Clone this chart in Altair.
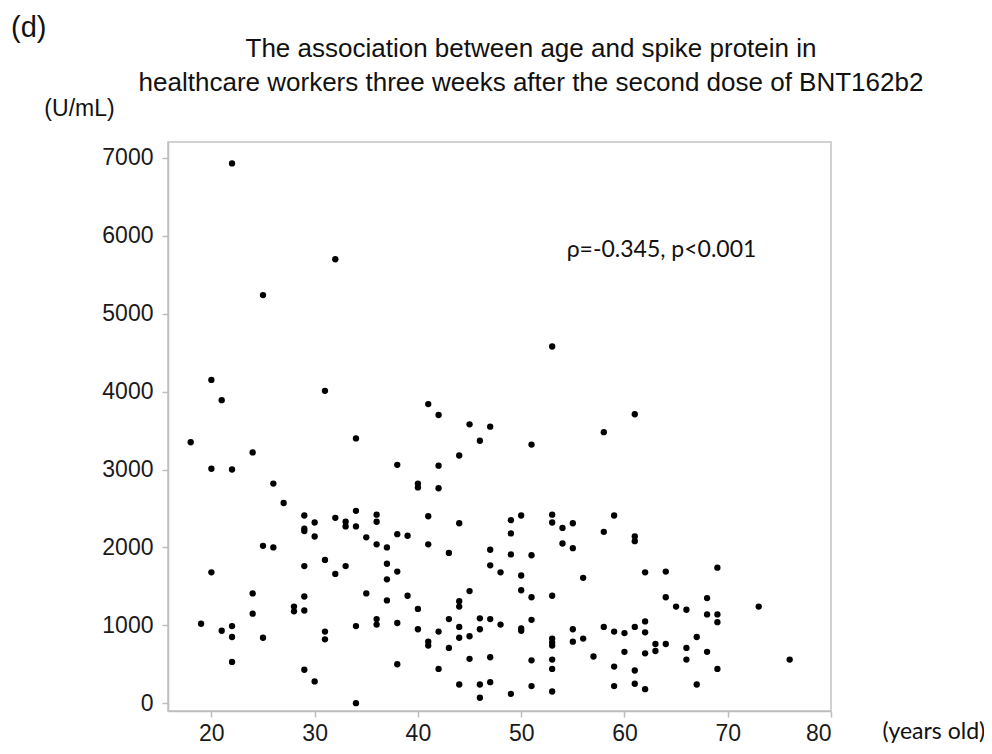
import altair as alt
import pandas as pd

ages = [
    18, 20, 22, 24, 26, 27, 29, 29, 29, 30, 30, 32, 33, 33, 34, 34, 34, 25, 26, 20,
    29, 31, 32, 33, 24, 29, 28, 28, 29, 24, 19, 21, 22, 22, 25, 31, 31, 34, 22, 29,
    30, 34,
    22, 32, 25, 20, 21, 31,
    53, 41,
    42, 45, 47, 46, 51, 44, 38, 42, 40, 40, 42, 36, 36, 41, 44, 49, 50, 53, 53, 54,
    55, 35, 38, 39, 36, 37, 41, 43, 47, 49, 49, 51, 54, 55, 37, 38, 37, 47, 48, 50,
    56, 35, 37, 39, 40, 45, 44, 44, 50, 51, 53, 36, 36, 38, 40, 41, 41, 42, 43, 43,
    44, 44, 45, 46, 46, 47, 48, 50, 50, 51, 53, 53, 53, 55, 55, 56, 38, 42, 45, 47,
    51, 53, 53, 44, 46, 47, 46, 49, 51, 53,
    61, 58, 59, 58, 61, 61, 62, 64, 69, 64, 65, 66, 68, 68, 69, 69, 73, 58, 59, 60,
    61, 62, 62, 63, 63, 64, 67, 66, 68, 57, 60, 62, 66, 59, 61, 69, 76, 59, 61, 62,
    67,
]
spike = [
    3350, 3010, 3000, 3220, 2820, 2570, 2410, 2240, 2210, 2320, 2140, 2380, 2330, 2270, 2470, 2270, 3400, 2020, 2000, 1680,
    1760, 1840, 1660, 1760, 1410, 1370, 1240, 1180, 1190, 1150, 1020, 930, 990, 850, 840, 920, 820, 990, 530, 430,
    280, 0,
    6930, 5700, 5240, 4150, 3890, 4010,
    4580, 3840,
    3700, 3580, 3550, 3370, 3320, 3180, 3060, 3050, 2820, 2770, 2760, 2420, 2330, 2400, 2310, 2350, 2410, 2420, 2320, 2250,
    2310, 2130, 2170, 2150, 2040, 2000, 2040, 1930, 1970, 2180, 1910, 1900, 2050, 1990, 1790, 1690, 1590, 1770, 1680, 1640,
    1610, 1410, 1320, 1380, 1210, 1440, 1310, 1240, 1450, 1360, 1380, 1080, 1010, 1030, 950, 790, 740, 920, 1080, 710,
    980, 840, 860, 1090, 950, 1080, 1010, 960, 930, 1070, 830, 780, 740, 950, 790, 830, 500, 440, 570, 590,
    550, 560, 440, 240, 240, 270, 70, 120, 220, 150,
    3710, 3480, 2410, 2200, 2140, 2080, 1680, 1690, 1740, 1360, 1240, 1200, 1350, 1140, 1140, 1040, 1240, 980, 920, 900,
    980, 1050, 910, 760, 670, 760, 850, 710, 660, 600, 660, 640, 560, 470, 420, 440, 560, 220, 250, 180,
    240,
]

x_ticks = [20, 30, 40, 50, 60, 70, 80]
y_ticks = [0, 1000, 2000, 3000, 4000, 5000, 6000, 7000]

title_lines = [
    "The association between age and spike protein in",
    "healthcare workers three weeks after the second dose of BNT162b2",
]
annot_text = ["ρ=-0.345, p<0.001"]
annot_x = [54.4]
annot_y = [5820]
panel_label = "(d)"

df = pd.DataFrame({"age": ages, "spike": spike})
ann = pd.DataFrame({"x": annot_x, "y": annot_y, "t": annot_text})

GRAY = "#bdbdbd"

xenc = alt.X(
    "age:Q",
    scale=alt.Scale(domain=[15.8, 80], nice=False, zero=False),
    axis=alt.Axis(
        values=x_ticks,
        title="(years old)",
        titleFont="Lato",
        titleFontSize=23,
        titleFontWeight="normal",
        titleColor="#111",
        titleAngle=0,
        titleAlign="left",
        titleBaseline="middle",
        titleX=714,
        titleY=20,
        labelPadding=5,
    ),
)
yenc = alt.Y(
    "spike:Q",
    scale=alt.Scale(domain=[-100, 7205], nice=False, zero=False),
    axis=alt.Axis(
        values=y_ticks,
        format="d",
        title="(U/mL)",
        titleFont="Liberation Sans",
        titleFontSize=23,
        titleFontWeight="normal",
        titleColor="#111",
        titleAngle=0,
        titleAlign="center",
        titleBaseline="middle",
        titleX=-89,
        titleY=-34,
        labelPadding=9,
    ),
)

points = alt.Chart(df).mark_circle(size=40, color="black", opacity=1).encode(x=xenc, y=yenc)

annot = alt.Chart(ann).mark_text(
    align="left", baseline="middle", font="Lato", fontSize=23, color="#111"
).encode(x="x:Q", y="y:Q", text="t:N")

dlabel = alt.Chart(pd.DataFrame({"t": [panel_label]})).mark_text(
    align="left", baseline="middle", font="Liberation Sans", fontSize=29, color="#111"
).encode(x=alt.value(-157), y=alt.value(-114), text="t:N")

title_mark = alt.Chart(pd.DataFrame({"k": [0]})).mark_text(
    align="center",
    baseline="alphabetic",
    font="Liberation Sans",
    fontSize=26,
    color="#111",
    lineHeight=34,
).encode(x=alt.value(363), y=alt.value(-85), text=alt.value(title_lines))

chart = (
    alt.layer(points, annot, dlabel, title_mark)
    .properties(
        width=663,
        height=569,
        autosize=alt.AutoSizeParams(type="none"),
        padding={"left": 160, "top": 134, "right": 153, "bottom": 35},
    )
    .configure_view(stroke="#c4c4c4", strokeWidth=1.5)
    .configure_axis(
        grid=False,
        domainColor=GRAY,
        domainWidth=1.5,
        tickColor=GRAY,
        tickWidth=1.5,
        tickSize=6,
        labelFont="Liberation Sans",
        labelFontSize=23,
        labelColor="#1a1a1a",
    )
)

chart.save("out.html", embed_options={"renderer": "svg", "actions": False})
